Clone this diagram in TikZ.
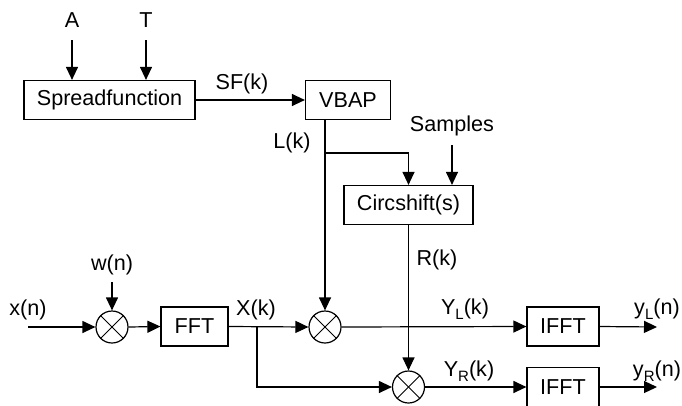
\documentclass[tikz,border=0pt]{standalone}
\usepackage{fontspec}
\setmainfont{Liberation Sans}
\usetikzlibrary{arrows.meta}
\newcommand{\lowsub}[1]{\raisebox{-0.45ex}{\fontsize{15}{15}\selectfont #1}}
\begin{document}
\begin{tikzpicture}[x=1pt,y=-1pt,line width=1.2pt,
  blk/.style={draw,minimum height=39pt,inner sep=0pt,font=\fontsize{21.6}{21.6}\selectfont},
  lbl/.style={inner sep=0pt,font=\fontsize{21.6}{21.6}\selectfont},
  mult/.style={draw,circle,minimum size=32pt,inner sep=0pt},
  arr/.style={-{Triangle[length=13pt,width=12pt]}}]
\useasboundingbox (0,0) rectangle (682,405);
% blocks
\node[blk,minimum width=171pt] (sf) at (109.5,100) {Spreadfunction};
\node[blk,minimum width=85pt] (vbap) at (348,100) {VBAP};
\node[blk,minimum width=129pt] (cs) at (408.5,205) {Circshift(s)};
\node[mult] (m1) at (112,327) {};
\node[blk,minimum width=67pt] (fft) at (194.5,326.5) {FFT};
\node[mult] (m2) at (325,327) {};
\node[mult] (m3) at (408.5,387) {};
\node[blk,minimum width=72pt] (ifft1) at (563,326.5) {IFFT};
\node[blk,minimum width=72pt] (ifft2) at (563,387) {IFFT};
% crosses
\foreach \m in {m1,m2,m3}{
  \draw[line width=1pt] (\m.north west) -- (\m.south east);
  \draw[line width=1pt] (\m.north east) -- (\m.south west);
}
% labels
\node[lbl] (A) at (72,20) {A};
\node[lbl] (T) at (146,20) {T};
\node[lbl] (sfk) at (242,84) {SF(k)};
\node[lbl] (lk) at (292,143) {L(k)};
\node[lbl] (smp) at (452,126) {Samples};
\node[lbl] (rk) at (437,260) {R(k)};
\node[lbl] (xn) at (28,310) {x(n)};
\node[lbl] (wn) at (112,265) {w(n)};
\node[lbl] (xk) at (256,310) {X(k)};
\node[lbl] (ylk) at (465,309) {Y\lowsub{L}(k)};
\node[lbl] (yln) at (657,309) {y\lowsub{L}(n)};
\node[lbl] (yrk) at (469,371) {Y\lowsub{R}(k)};
\node[lbl] (yrn) at (657,371) {y\lowsub{R}(n)};
% free ends
\coordinate (a0) at (72,40);
\coordinate (t0) at (146,40);
\coordinate (s0) at (452,145);
\coordinate (w0) at (112,282);
\coordinate (x0) at (28,327);
\coordinate (lb) at (325,153);
\coordinate (xb) at (257,327);
\coordinate (yl) at (657,327);
\coordinate (yr) at (657,387);
% connectors
\draw[arr] (a0) -- (a0 |- sf.north);
\draw[arr] (t0) -- (t0 |- sf.north);
\draw[arr] (sf.east) -- (vbap.west);
\draw[arr] (m2 |- vbap.south) -- (m2.north);
\draw[arr] (lb) -| (cs.north);
\draw[arr] (s0) -- (s0 |- cs.north);
\draw[arr] (cs.south) -- (m3.north);
\draw[arr] (w0) -- (m1.north);
\draw[arr] (x0) -- (m1.west);
\draw[arr] (m1.east) -- (fft.west);
\draw[arr] (fft.east) -- (m2.west);
\draw[arr] (xb) |- (m3.west);
\draw[arr] (m2.east) -- (ifft1.west);
\draw[arr] (m3.east) -- (ifft2.west);
\draw[arr] (ifft1.east) -- (yl);
\draw[arr] (ifft2.east) -- (yr);
\end{tikzpicture}
\end{document}
